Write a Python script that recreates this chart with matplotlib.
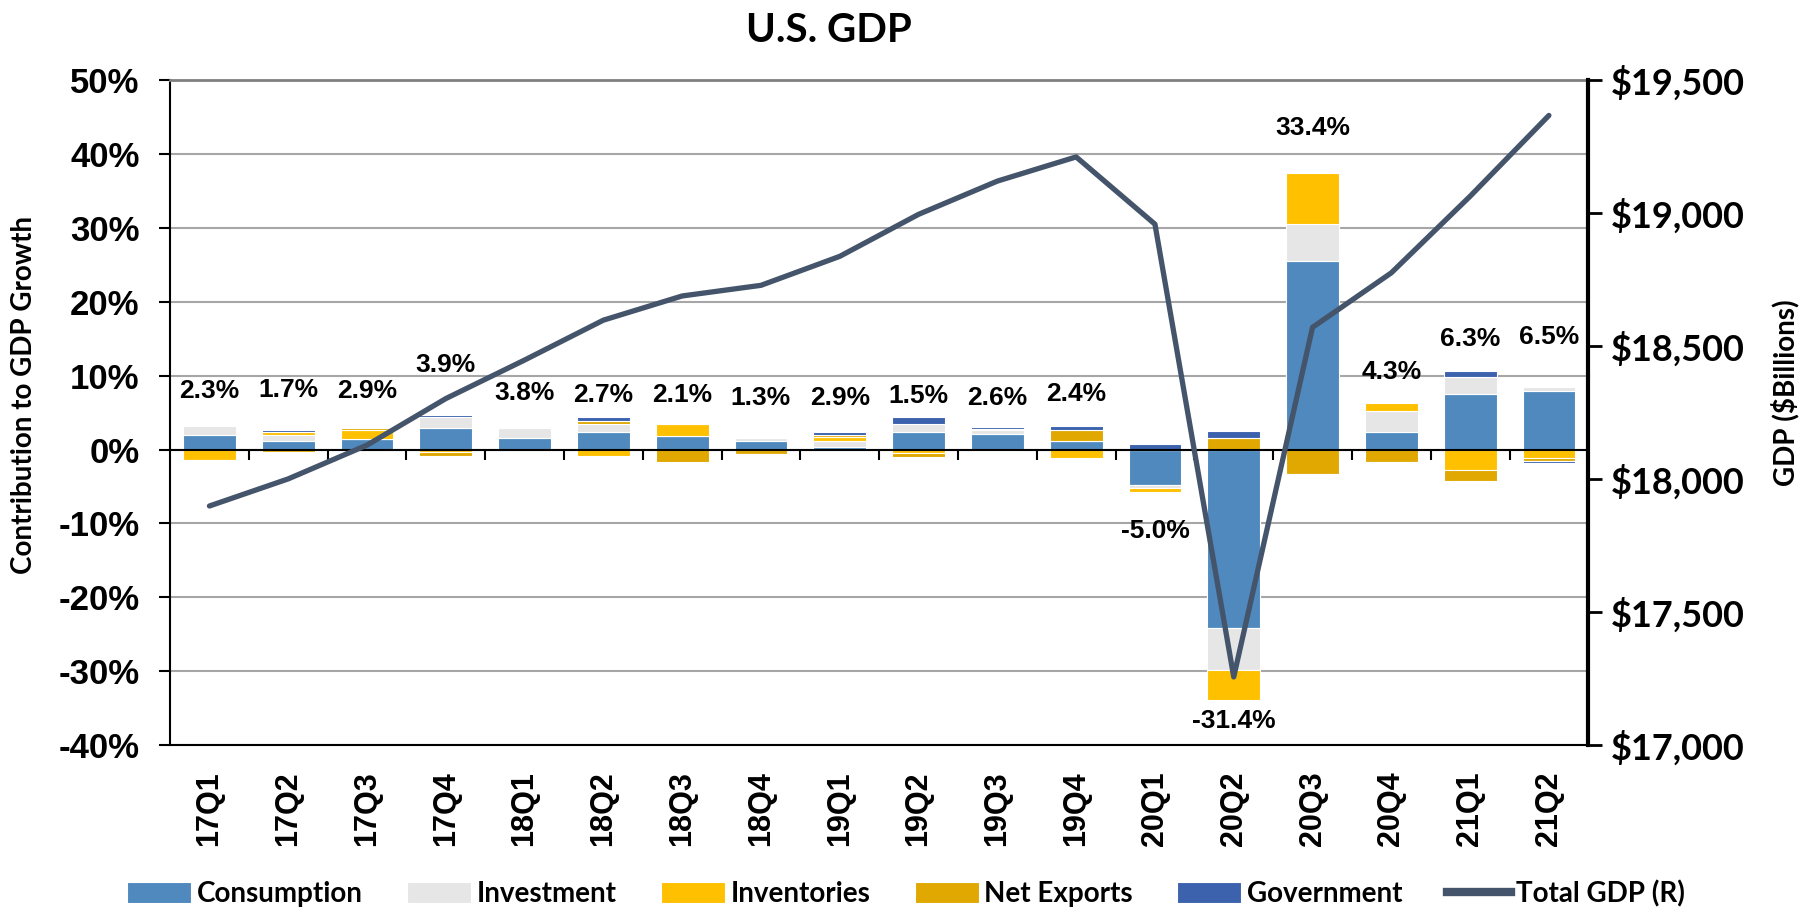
import numpy as np
import matplotlib.pyplot as plt
from matplotlib.ticker import MultipleLocator, FuncFormatter
from matplotlib.lines import Line2D

quarters = ["17Q1", "17Q2", "17Q3", "17Q4", "18Q1", "18Q2", "18Q3", "18Q4", "19Q1",
            "19Q2", "19Q3", "19Q4", "20Q1", "20Q2", "20Q3", "20Q4", "21Q1", "21Q2"]

# contributions to growth, percentage points
consumption = [1.95, 1.2, 1.5, 2.9, 1.6, 2.35, 1.8, 1.15, 0.4,
               2.35, 2.1, 1.15, -4.75, -24.2, 25.6, 2.35, 7.5, 7.9]
investment = [1.2, 0.75, 0.0, 1.5, 1.3, 1.05, 0.0, 0.45, 0.7,
              1.05, 0.55, 0.0, -0.45, -5.65, 4.95, 2.85, 2.3, 0.55]
inventories = [-1.4, 0.4, 1.1, -0.3, 0.2, -0.9, 1.6, 0.0, 0.55,
               -0.5, -0.25, -1.1, -0.6, -4.0, 6.85, 1.15, -2.7, -1.15]
net_exports = [0.2, -0.35, 0.35, -0.6, 0.0, 0.45, -1.65, -0.55, 0.3,
               -0.55, 0.1, 1.45, 0.0, 1.6, -3.3, -1.7, -1.5, -0.45]
government = [-0.05, 0.3, 0.0, 0.35, 0.15, 0.5, 0.25, -0.05, 0.4,
              0.95, 0.35, 0.55, 0.7, 0.9, -0.1, -0.05, 0.8, -0.2]

gdp_growth = [2.3, 1.7, 2.9, 3.9, 3.8, 2.7, 2.1, 1.3, 2.9,
              1.5, 2.6, 2.4, -5.0, -31.4, 33.4, 4.3, 6.3, 6.5]
# real GDP, $ billions (right axis)
total_gdp = [17899, 18001, 18128, 18303, 18448, 18598, 18689, 18729, 18838,
             18996, 19121, 19212, 18959, 17256, 18571, 18776, 19064, 19368]

# where each growth label sits (left axis units)
label_at = [8.0, 8.1, 8.0, 11.5, 7.6, 7.4, 7.4, 7.0, 7.0,
            7.3, 7.0, 7.5, -11.0, -36.7, 43.6, 10.5, 15.0, 15.2]

series = [("Consumption", consumption, "#4F89BD"),
          ("Investment", investment, "#E6E6E6"),
          ("Inventories", inventories, "#FFC000"),
          ("Net Exports", net_exports, "#E0A800"),
          ("Government", government, "#3C62AD")]

ARIAL = "Liberation Sans"
CALIBRI = "Lato"

fig = plt.figure(figsize=(18.09, 9.13), dpi=100)
ax = fig.add_axes([0.094, 0.184, 0.784, 0.728])

x = np.arange(len(quarters))
pos_base = np.zeros(len(x))
neg_base = np.zeros(len(x))
for name, vals, col in series:
    v = np.array(vals, dtype=float)
    bottom = np.where(v >= 0, pos_base, neg_base)
    ax.bar(x, v, 0.67, bottom=bottom, color=col, edgecolor="white",
           linewidth=0.8, label=name, zorder=3)
    pos_base += np.clip(v, 0, None)
    neg_base += np.clip(v, None, 0)

for xi, g, y in zip(x, gdp_growth, label_at):
    ax.text(xi, y, f"{g:.1f}%", ha="center", va="center", fontsize=19,
            fontweight="bold", family=ARIAL, zorder=5)

ax.set_xlim(-0.5, len(x) - 0.5)
ax.set_ylim(-40, 50)
ax.yaxis.set_major_locator(MultipleLocator(10))
ax.yaxis.set_major_formatter(FuncFormatter(lambda v, p: f"{v:.0f}%"))
ax.grid(axis="y", color="#A6A6A6", linewidth=1.5, zorder=0)
ax.set_axisbelow(True)
ax.axhline(0, color="black", linewidth=1.5, zorder=4)
ax.vlines(x[:-1] + 0.5, -1.4, 0, color="black", linewidth=1.5, zorder=4)

ax.set_xticks(x)
ax.set_xticklabels(quarters, rotation=90, fontsize=22, fontweight="bold", family=ARIAL)
ax.tick_params(axis="x", length=0, pad=19)
ax.tick_params(axis="y", labelsize=25, length=8, width=1.5, pad=14)
for t in ax.get_yticklabels():
    t.set_fontweight("bold")
    t.set_family(ARIAL)

for s in ["left", "bottom"]:
    ax.spines[s].set_linewidth(1.5)
ax.spines["top"].set_color("#808080")
ax.spines["top"].set_linewidth(2)
ax.spines["right"].set_visible(False)

ax2 = ax.twinx()
ax2.plot(x, total_gdp, color="#44546A", linewidth=3.8, solid_capstyle="round",
         zorder=6)
ax2.set_ylim(17000, 19500)
ax2.yaxis.set_major_locator(MultipleLocator(500))
ax2.yaxis.set_major_formatter(FuncFormatter(lambda v, p: f"${v:,.0f}"))
ax2.tick_params(axis="y", labelsize=26, length=10, width=2, pad=6)
for t in ax2.get_yticklabels():
    t.set_fontweight("bold")
    t.set_family(CALIBRI)
ax2.spines["right"].set_linewidth(3)
for s in ["left", "top", "bottom"]:
    ax2.spines[s].set_visible(False)

fig.text(0.458, 0.967, "U.S. GDP", ha="center", va="center", fontsize=29,
         fontweight="bold", family=CALIBRI)
fig.text(0.013, 0.567, "Contribution to GDP Growth", rotation=90, ha="center",
         va="center", fontsize=20, fontweight="bold", family=CALIBRI)
fig.text(0.987, 0.57, "GDP ($Billions)", rotation=90, ha="center", va="center",
         fontsize=20, fontweight="bold", family=CALIBRI)

handles, labels = ax.get_legend_handles_labels()
handles.append(Line2D([0], [0], color="#44546A", linewidth=6))
labels.append("Total GDP (R)")
fig.legend(handles, labels, loc="center", bbox_to_anchor=(0.501, 0.021), ncol=6,
           frameon=False, prop={"family": CALIBRI, "weight": "bold", "size": 20},
           handlelength=2.3, handleheight=0.8, handletextpad=0.2, columnspacing=1.6)

fig.savefig("out.png", dpi=100)
